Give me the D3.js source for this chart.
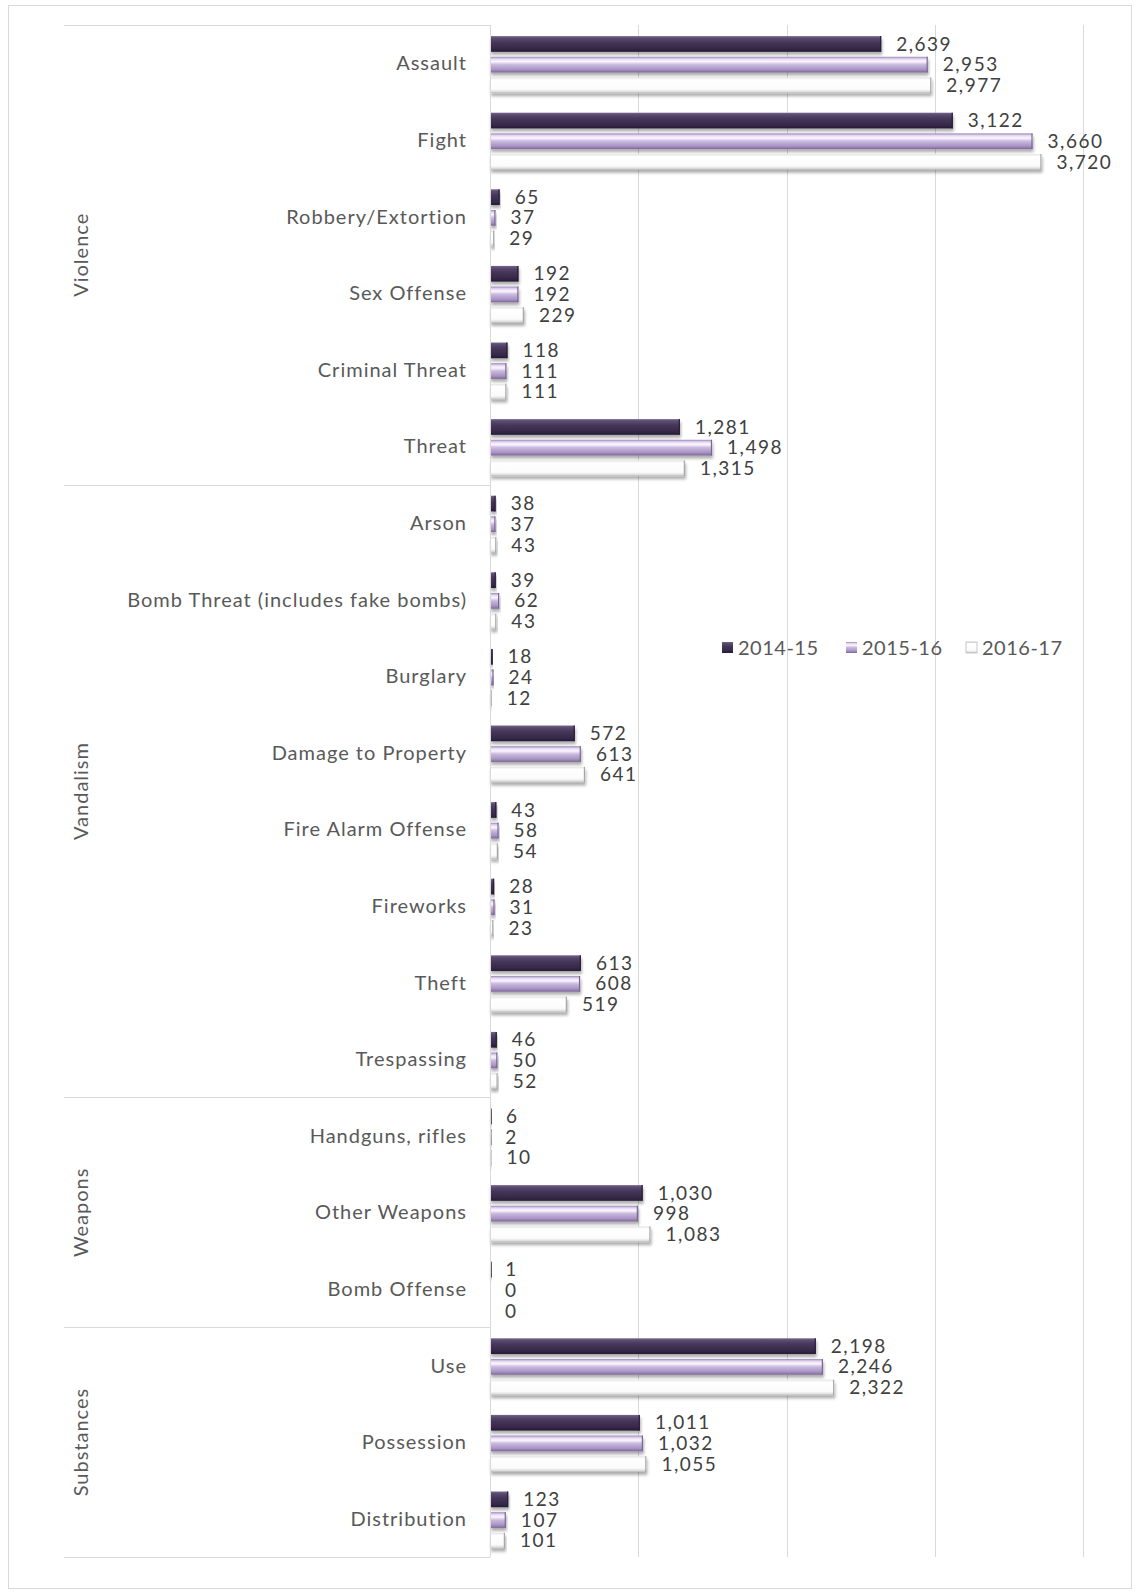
<!DOCTYPE html>
<html><head><meta charset="utf-8">
<script src="https://cdn.jsdelivr.net/npm/d3@7"></script>
<style>
html,body{margin:0;padding:0;background:#fff;}
svg{display:block;font-family:Lato,"Open Sans",sans-serif;}
</style></head>
<body>
<svg id="chart" width="1138" height="1594"></svg>
<script>
const categories = ["Assault","Fight","Robbery/Extortion","Sex Offense","Criminal Threat","Threat",
  "Arson","Bomb Threat (includes fake bombs)","Burglary","Damage to Property","Fire Alarm Offense","Fireworks","Theft","Trespassing",
  "Handguns, rifles","Other Weapons","Bomb Offense",
  "Use","Possession","Distribution"];
const groupNames = ["Violence","Vandalism","Weapons","Substances"];
const groupSizes = [6,8,3,3];
const seriesNames = ["2014-15","2015-16","2016-17"];
const v2014 = [2639,3122,65,192,118,1281,38,39,18,572,43,28,613,46,6,1030,1,2198,1011,123];
const v2015 = [2953,3660,37,192,111,1498,37,62,24,613,58,31,608,50,2,998,0,2246,1032,107];
const v2016 = [2977,3720,29,229,111,1315,43,43,12,641,54,23,519,52,10,1083,0,2322,1055,101];
const xTicks = [0,1000,2000,3000,4000];

const seriesValues = [v2014, v2015, v2016];
const svg = d3.select("#chart");
const plotLeft = 490, plotRight = 1083, plotTop = 25, plotBottom = 1557;

// outer border
svg.append("rect").attr("x",8.5).attr("y",5.5).attr("width",1123).attr("height",1583)
  .attr("fill","#fff").attr("stroke","#d9d9d9").attr("stroke-width",1);

const defs = svg.append("defs");
function grad(id, stops){
  const g = defs.append("linearGradient").attr("id",id).attr("x1",0).attr("y1",0).attr("x2",0).attr("y2",1);
  stops.forEach(s=>g.append("stop").attr("offset",s[0]).attr("stop-color",s[1]));
}
grad("g0",[[0,"#76678e"],[0.14,"#5a4a70"],[0.4,"#443657"],[0.8,"#362849"],[1,"#241a34"]]);
grad("g1",[[0,"#9a86b6"],[0.14,"#e4d8f3"],[0.3,"#fbf6ff"],[0.5,"#c9b9de"],[0.82,"#a892c3"],[1,"#7a6696"]]);
grad("g2",[[0,"#e2e2e2"],[0.15,"#ffffff"],[0.75,"#fbfbfb"],[0.9,"#e0e0e0"],[1,"#b5b5b5"]]);
const f = defs.append("filter").attr("id","sh").attr("x","-5%").attr("y","-30%").attr("width","115%").attr("height","190%");
f.append("feDropShadow").attr("dx",1).attr("dy",3).attr("stdDeviation",1.6).attr("flood-color","#000").attr("flood-opacity",0.32);

const x = d3.scaleLinear().domain([0,4000]).range([plotLeft, plotRight]);
const y0 = d3.scaleBand().domain(categories).range([plotTop, plotBottom]).paddingInner(0).paddingOuter(0);
const bw = y0.bandwidth();
const y1 = d3.scaleBand().domain(seriesNames).range([bw*0.145, bw*0.89]).paddingInner(0.24);

// gridlines
const grid = svg.append("g");
xTicks.forEach(t=>{
  grid.append("line").attr("x1",Math.round(x(t))+0.5).attr("x2",Math.round(x(t))+0.5)
    .attr("y1",plotTop).attr("y2",plotBottom).attr("stroke","#d9d9d9").attr("stroke-width",1);
});

// group separators
const sepX1 = 64;
let acc = 0;
const bounds = [0];
groupSizes.forEach(s=>{acc+=s; bounds.push(acc);});
bounds.forEach(b=>{
  const yy = b < categories.length ? y0(categories[b]) : plotBottom;
  svg.append("line").attr("x1",sepX1).attr("x2",plotLeft).attr("y1",Math.round(yy)+0.5).attr("y2",Math.round(yy)+0.5)
    .attr("stroke","#d9d9d9").attr("stroke-width",1);
});

// group labels
groupNames.forEach((g,i)=>{
  const a = y0(categories[bounds[i]]);
  const b = bounds[i+1] < categories.length ? y0(categories[bounds[i+1]]) : plotBottom;
  const cy = (a+b)/2;
  svg.append("text").attr("transform",`translate(88,${cy}) rotate(-90)`)
    .attr("text-anchor","middle").attr("font-size",20).attr("letter-spacing",1).attr("fill","#595959").text(g);
});

// category labels
svg.append("g").selectAll("text").data(categories).join("text")
  .attr("x",467).attr("y",d=>y0(d)+bw/2).attr("dy","0.35em")
  .attr("text-anchor","end").attr("font-size",20).attr("letter-spacing",1).attr("fill","#595959").text(d=>d);

// bars
const fmt = d3.format(",");
const capCol = ["#2a1f38","#7a6696","#a6a6a6"];
seriesNames.forEach((s,si)=>{
  const g = svg.append("g");
  categories.forEach((c,ci)=>{
    const v = seriesValues[si][ci];
    const yy = y0(c) + y1(s);
    const w = x(v) - x(0);
    if (w > 0) {
      const ww = Math.max(w,1.5);
      g.append("rect").attr("x",x(0)).attr("y",yy).attr("width",ww).attr("height",y1.bandwidth())
        .attr("fill",`url(#g${si})`).attr("filter","url(#sh)");
      g.append("line").attr("x1",x(0)+ww-0.6).attr("x2",x(0)+ww-0.6)
        .attr("y1",yy).attr("y2",yy+y1.bandwidth()).attr("stroke",capCol[si]).attr("stroke-width",1.2);
    }
    g.append("text").attr("x",x(v)+15).attr("y",yy+y1.bandwidth()/2).attr("dy","0.35em")
      .attr("font-size",19).attr("letter-spacing",1.5).attr("fill","#404040").text(fmt(v));
  });
});

// axis line
svg.append("line").attr("x1",plotLeft+0.5).attr("x2",plotLeft+0.5).attr("y1",plotTop).attr("y2",plotBottom)
  .attr("stroke","#d9d9d9").attr("stroke-width",1);

// legend
const legX = [722, 846, 966];
const lg = svg.append("g");
seriesNames.forEach((s,i)=>{
  lg.append("rect").attr("x",legX[i]).attr("y",642).attr("width",11).attr("height",11)
    .attr("fill",`url(#g${i})`).attr("stroke", i===2 ? "#c8c8c8" : "none");
  lg.append("text").attr("x",legX[i]+16).attr("y",648).attr("dy","0.35em")
    .attr("font-size",20).attr("letter-spacing",0.5).attr("fill","#595959").text(s);
});
</script>
</body></html>
